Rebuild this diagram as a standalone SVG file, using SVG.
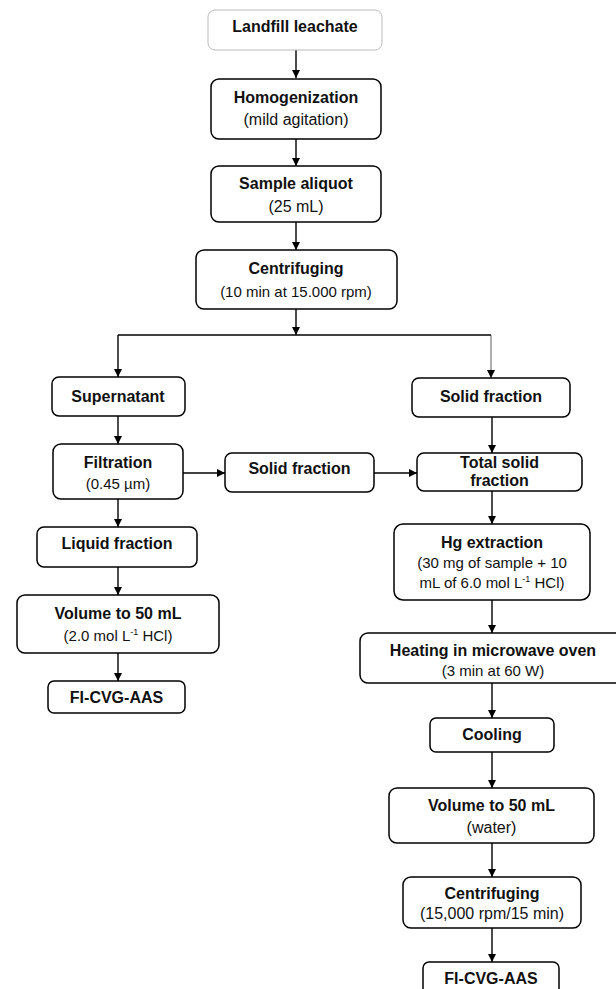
<svg xmlns="http://www.w3.org/2000/svg" width="616" height="989" viewBox="0 0 616 989">
<style>
.box{fill:#fff;stroke:#000;stroke-width:1.5}
.light{fill:#fff;stroke:#bbb;stroke-width:1}
.t{font-family:"Liberation Sans",Arial,sans-serif;font-size:16px;font-weight:bold;text-anchor:middle;fill:#111}
.s{font-family:"Liberation Sans",Arial,sans-serif;font-size:15px;text-anchor:middle;fill:#111}
.s16{font-size:16px}
.sup{font-size:9px}
.c{fill:none;stroke:#000;stroke-width:1.4}
.thin{fill:none;stroke:#333;stroke-width:0.8}
</style>
<defs>
<marker id="ah" viewBox="0 0 10 10" refX="10" refY="5" markerWidth="8" markerHeight="8" markerUnits="userSpaceOnUse" orient="auto">
<path d="M0,0 L10,5 L0,10 z" fill="#000"/>
</marker>
</defs>
<rect width="616" height="989" fill="#fff"/>
<g id="connectors">
<path class="c" d="M296,50 V78" marker-end="url(#ah)"/>
<path class="c" d="M296,139 V166" marker-end="url(#ah)"/>
<path class="c" d="M296,222 V250" marker-end="url(#ah)"/>
<path class="c" d="M296,309 V335" marker-end="url(#ah)"/>
<path class="c" d="M118,335 H491"/>
<path class="c" d="M118,335 V377" marker-end="url(#ah)"/>
<path class="thin" d="M491,335 V378" marker-end="url(#ah)"/>
<path class="c" d="M118,416 V444" marker-end="url(#ah)"/>
<path class="c" d="M183,473 H225" marker-end="url(#ah)"/>
<path class="c" d="M374,473 H417" marker-end="url(#ah)"/>
<path class="c" d="M492,417 V453" marker-end="url(#ah)"/>
<path class="c" d="M492,491 V524" marker-end="url(#ah)"/>
<path class="c" d="M118,499 V527" marker-end="url(#ah)"/>
<path class="c" d="M118,567 V595" marker-end="url(#ah)"/>
<path class="c" d="M118,653 V681" marker-end="url(#ah)"/>
<path class="c" d="M492,600 V633" marker-end="url(#ah)"/>
<path class="c" d="M492,683 V718" marker-end="url(#ah)"/>
<path class="c" d="M492,752 V788" marker-end="url(#ah)"/>
<path class="c" d="M492,843 V877" marker-end="url(#ah)"/>
<path class="c" d="M492,928 V962" marker-end="url(#ah)"/>
</g>
<g id="landfill">
<rect class="light" x="208" y="10" width="174" height="40" rx="7"/>
<text class="t" x="295" y="32">Landfill leachate</text>
</g>
<g id="homogenization">
<rect class="box" x="211" y="79" width="170" height="60" rx="8"/>
<text class="t" x="296" y="103">Homogenization</text>
<text class="s s16" x="296" y="125">(mild agitation)</text>
</g>
<g id="aliquot">
<rect class="box" x="211" y="166" width="170" height="56" rx="8"/>
<text class="t" x="296" y="189">Sample aliquot</text>
<text class="s s16" x="296" y="212">(25 mL)</text>
</g>
<g id="centrifuging1">
<rect class="box" x="196" y="250" width="201" height="59" rx="8"/>
<text class="t" x="296" y="274">Centrifuging</text>
<text class="s" x="296" y="297">(10 min at 15.000 rpm)</text>
</g>
<g id="supernatant">
<rect class="box" x="52" y="377" width="133" height="39" rx="7"/>
<text class="t" x="118" y="402">Supernatant</text>
</g>
<g id="solid-right">
<rect class="box" x="412" y="378" width="158" height="39" rx="7"/>
<text class="t" x="491" y="402">Solid fraction</text>
</g>
<g id="filtration">
<rect class="box" x="53" y="444" width="130" height="55" rx="8"/>
<text class="t" x="118" y="468">Filtration</text>
<text class="s" x="118" y="489">(0.45 µm)</text>
</g>
<g id="solid-middle">
<rect class="box" x="225" y="453" width="149" height="39" rx="7"/>
<text class="t" x="299.5" y="474">Solid fraction</text>
</g>
<g id="total-solid">
<rect class="box" x="417" y="453" width="165" height="38" rx="7"/>
<text class="t" x="499.5" y="468">Total solid</text>
<text class="t" x="499.5" y="486">fraction</text>
</g>
<g id="liquid">
<rect class="box" x="37" y="527" width="160" height="40" rx="7"/>
<text class="t" x="117" y="549">Liquid fraction</text>
</g>
<g id="hg-extraction">
<rect class="box" x="394" y="524" width="196" height="76" rx="9"/>
<text class="t" x="492" y="548">Hg extraction</text>
<text class="s" x="492" y="568">(30 mg of sample + 10</text>
<text class="s" x="492" y="588">mL of 6.0 mol L<tspan class="sup" dy="-6">-1</tspan><tspan dy="6"> HCl)</tspan></text>
</g>
<g id="volume-left">
<rect class="box" x="17" y="595" width="202" height="58" rx="8"/>
<text class="t" x="118" y="619">Volume to 50 mL</text>
<text class="s" x="118" y="641">(2.0 mol L<tspan class="sup" dy="-6">-1</tspan><tspan dy="6"> HCl)</tspan></text>
</g>
<g id="heating">
<rect class="box" x="360" y="633" width="266" height="50" rx="8"/>
<text class="t" x="493" y="656">Heating in microwave oven</text>
<text class="s" x="493" y="676">(3 min at 60 W)</text>
</g>
<g id="fi-left">
<rect class="box" x="48" y="681" width="137" height="32" rx="6"/>
<text class="t" x="116.5" y="703">FI-CVG-AAS</text>
</g>
<g id="cooling">
<rect class="box" x="430" y="718" width="124" height="34" rx="6"/>
<text class="t" x="492" y="740">Cooling</text>
</g>
<g id="volume-right">
<rect class="box" x="389" y="788" width="205" height="55" rx="8"/>
<text class="t" x="491.5" y="811">Volume to 50 mL</text>
<text class="s s16" x="491.5" y="833">(water)</text>
</g>
<g id="centrifuging2">
<rect class="box" x="403" y="877" width="178" height="51" rx="8"/>
<text class="t" x="492" y="899">Centrifuging</text>
<text class="s s16" x="492" y="919">(15,000 rpm/15 min)</text>
</g>
<g id="fi-right">
<rect class="box" x="423" y="962" width="136" height="40" rx="6"/>
<text class="t" x="491" y="984">FI-CVG-AAS</text>
</g>
</svg>
